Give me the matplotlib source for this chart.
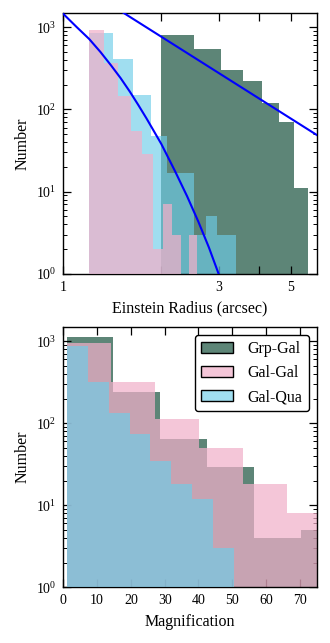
import numpy as np
import matplotlib
matplotlib.use("Agg")
import matplotlib.pyplot as plt
from matplotlib.patches import Patch
from matplotlib.ticker import FixedLocator, NullLocator, LogLocator, FixedFormatter

plt.rcParams['font.family'] = ['Liberation Serif', 'DejaVu Serif']
plt.rcParams['mathtext.fontset'] = 'stix'

# ---------------- data: top panel (Einstein radius, arcsec) ----------------
grp_radius_edges = [2.0, 2.52, 3.04, 3.56, 4.08, 4.60, 5.12, 5.64]
grp_radius_counts = [810, 540, 300, 220, 120, 70, 11]

galgal_radius_edges = [1.2, 1.3375, 1.475, 1.6125, 1.75, 1.8875, 2.025, 2.1625, 2.3, 2.4375, 2.575]
galgal_radius_counts = [930, 366, 144, 54, 29, 2, 7, 3, 0, 3]

galqua_radius_edges = [1.2, 1.42, 1.64, 1.86, 2.08, 2.30, 2.52, 2.74, 2.96, 3.18, 3.40]
galqua_radius_counts = [850, 410, 150, 48, 17, 17, 3, 5, 3, 3]

# model curves
steep_x = [1.0, 1.1, 1.2, 1.3, 1.4, 1.5, 1.6, 1.7, 1.8, 1.9, 2.0, 2.2, 2.4, 2.6, 2.8, 3.0]
steep_y = [1450, 1000, 720, 500, 345, 240, 165, 113, 78, 54, 38, 18, 8.8, 4.3, 2.1, 1.0]
shallow_x = [1.5, 6.0]
shallow_y = [1570, 49]

# ---------------- data: bottom panel (magnification) ----------------
grp_mag_edges = [1.0, 14.85, 28.7, 42.55, 56.4, 70.25, 84.1]
grp_mag_counts = [1130, 242, 65, 29, 4, 5]

galgal_mag_edges = [1.0, 14.05, 27.1, 40.15, 53.2, 66.25, 79.3]
galgal_mag_counts = [955, 320, 114, 50, 18, 8]

galqua_mag_edges = [1.2, 7.35, 13.5, 19.65, 25.8, 31.95, 38.1, 44.25, 50.4]
galqua_mag_counts = [880, 320, 135, 74, 35, 18, 12, 3]

labels = ['Grp-Gal', 'Gal-Gal', 'Gal-Qua']

# ---------------- styles ----------------
c_green = (25/255, 81/255, 61/255, 0.70)
c_pink = (241/255, 176/255, 201/255, 0.72)
c_cyan = (109/255, 205/255, 232/255, 0.65)

fig = plt.figure(figsize=(3.3, 6.43), dpi=100)
ax1 = fig.add_axes([0.1918, 0.5739, 0.7679, 0.4064])
ax2 = fig.add_axes([0.1918, 0.0866, 0.7679, 0.4053])


def draw_hist(ax, edges, counts, color, z):
    e = np.asarray(edges, dtype=float)
    centers = 0.5 * (e[:-1] + e[1:])
    ax.hist(centers, bins=e, weights=counts, histtype='stepfilled',
            facecolor=color, edgecolor='none', linewidth=0, zorder=z, log=True)


# top panel
draw_hist(ax1, grp_radius_edges, grp_radius_counts, c_green, 1)
draw_hist(ax1, galqua_radius_edges, galqua_radius_counts, c_cyan, 2)
draw_hist(ax1, galgal_radius_edges, galgal_radius_counts, c_pink, 3)
ax1.plot(steep_x, steep_y, color='#0000ff', lw=1.5, zorder=5)
ax1.plot(shallow_x, shallow_y, color='#0000ff', lw=1.5, zorder=5)
ax1.set_xscale('log')
ax1.set_yscale('log')
ax1.set_xlim(1, 6)
ax1.set_ylim(1, 1500)
ax1.xaxis.set_major_locator(FixedLocator([1, 2, 3, 4, 5]))
ax1.xaxis.set_major_formatter(FixedFormatter(['1', '', '3', '', '5']))
ax1.xaxis.set_minor_locator(NullLocator())
ax1.set_xlabel('Einstein Radius (arcsec)', fontsize=11.5, labelpad=5)
ax1.set_ylabel('Number', fontsize=11.5, labelpad=4)

# bottom panel
draw_hist(ax2, grp_mag_edges, grp_mag_counts, c_green, 1)
draw_hist(ax2, galgal_mag_edges, galgal_mag_counts, c_pink, 2)
draw_hist(ax2, galqua_mag_edges, galqua_mag_counts, c_cyan, 3)
ax2.set_yscale('log')
ax2.set_xlim(0, 75)
ax2.set_ylim(1, 1500)
ax2.xaxis.set_major_locator(FixedLocator([0, 10, 20, 30, 40, 50, 60, 70]))
ax2.xaxis.set_minor_locator(NullLocator())
ax2.set_xlabel('Magnification', fontsize=11.5, labelpad=5)
ax2.set_ylabel('Number', fontsize=11.5, labelpad=4)

handles = [Patch(facecolor=c, edgecolor='black', linewidth=1.0) for c in (c_green, c_pink, c_cyan)]
leg = ax2.legend(handles, labels, loc='upper right', fontsize=11.5, frameon=True,
                 fancybox=True, framealpha=1, edgecolor='black', labelspacing=0.5,
                 handlelength=2.0, handleheight=0.7, handletextpad=0.9, borderpad=0.4,
                 borderaxespad=0.5)
leg.get_frame().set_linewidth(1.0)

for ax in (ax1, ax2):
    ax.yaxis.set_major_locator(LogLocator(base=10, numticks=10))
    ax.yaxis.set_minor_locator(LogLocator(base=10, subs=np.arange(2, 10), numticks=10))
    ax.tick_params(which='both', direction='in', top=True, right=True, labelsize=10, pad=5)
    ax.tick_params(which='major', length=5.5, width=0.9)
    ax.tick_params(which='minor', length=2.8, width=0.7)
    for s in ax.spines.values():
        s.set_linewidth(1.0)

fig.savefig('out.png', dpi=100)
